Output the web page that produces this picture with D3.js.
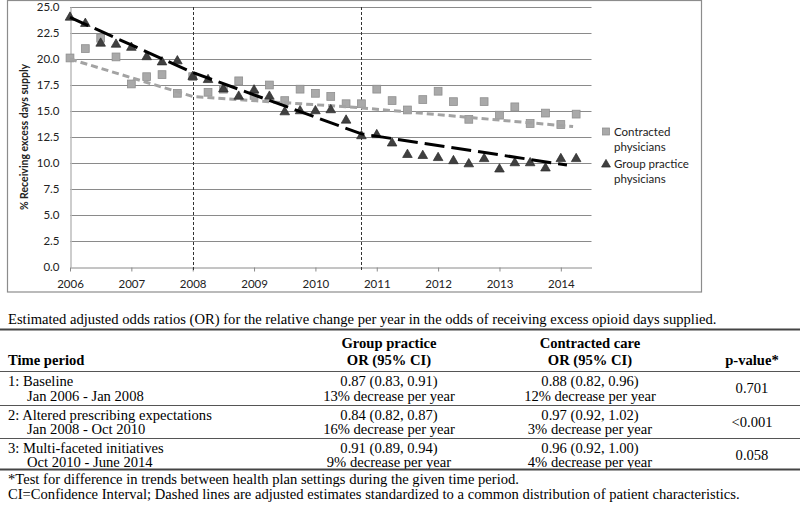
<!DOCTYPE html>
<html><head><meta charset="utf-8">
<script src="https://cdn.jsdelivr.net/npm/d3@7"></script>
<style>
html,body{margin:0;padding:0;background:#fff;}
svg{display:block;}
</style></head>
<body>
<svg id="c" width="800" height="516"></svg>
<script>
// ---------- data ----------
const quarters = [2006,2006.25,2006.5,2006.75,2007,2007.25,2007.5,2007.75,2008,2008.25,2008.5,2008.75,2009,2009.25,2009.5,2009.75,2010,2010.25,2010.5,2010.75,2011,2011.25,2011.5,2011.75,2012,2012.25,2012.5,2012.75,2013,2013.25,2013.5,2013.75,2014,2014.25];
const contractedValues = [20.1,21.0,22.0,20.2,17.6,18.3,18.5,16.7,18.3,16.8,17.1,17.9,16.5,17.5,16.0,17.1,16.7,16.4,15.7,15.7,17.1,16.0,15.1,16.1,16.9,15.9,14.2,15.9,14.6,15.4,13.8,14.8,13.7,14.7];
const groupValues = [24.0,23.4,21.5,21.4,21.1,20.2,19.7,19.8,18.3,18.0,17.1,16.4,17.0,16.4,14.9,15.0,15.0,15.1,14.1,12.6,12.7,11.9,10.8,10.7,10.5,10.2,9.9,10.4,9.4,10.0,10.0,9.5,10.4,10.4];
const groupTrendX = [2006, 2008, 2010.75, 2014.1];
const groupTrendY = [24.0, 18.7, 12.8, 9.8];
const contractedTrendX = [2006, 2008, 2010.75, 2014.2];
const contractedTrendY = [20.0, 16.4, 15.3, 13.5];
const breakYears = [2008, 2010.75];
const xTickLabels = ["2006","2007","2008","2009","2010","2011","2012","2013","2014"];
const yTickValues = [0,2.5,5,7.5,10,12.5,15,17.5,20,22.5,25];
const seriesNames = ["Contracted physicians","Group practice physicians"];
const yTitle = "% Receiving excess days supply";

const caption = "Estimated adjusted odds ratios (OR) for the relative change per year in the odds of receiving excess opioid days supplied.";
const headers = ["Time period","Group practice","OR (95% CI)","Contracted care","OR (95% CI)","p-value*"];
const periods = ["1: Baseline","2: Altered prescribing expectations","3: Multi-faceted initiatives"];
const ranges = ["Jan 2006 - Jan 2008","Jan 2008 - Oct 2010","Oct 2010 - June 2014"];
const groupOR = ["0.87 (0.83, 0.91)","0.84 (0.82, 0.87)","0.91 (0.89, 0.94)"];
const groupPct = ["13% decrease per year","16% decrease per year","9% decrease per year"];
const contractedOR = ["0.88 (0.82, 0.96)","0.97 (0.92, 1.02)","0.96 (0.92, 1.00)"];
const contractedPct = ["12% decrease per year","3% decrease per year","4% decrease per year"];
const pValues = ["0.701","<0.001","0.058"];
const footnotes = ["*Test for difference in trends between health plan settings during the given time period.",
  "CI=Confidence Interval; Dashed lines are adjusted estimates standardized to a common distribution of patient characteristics."];

// ---------- chart ----------
const svg = d3.select("#c");
const sans = "Lato, 'Open Sans', sans-serif";
const serif = "'Liberation Serif', 'Times New Roman', serif";

svg.append("rect").attr("x",7.5).attr("y",0.5).attr("width",694).attr("height",291.5)
  .attr("fill","#fff").attr("stroke","#8c8c8c").attr("stroke-width",1.2);

const x = d3.scaleLinear().domain([2006, 2014.5]).range([70, 591.5]);
const y = d3.scaleLinear().domain([0, 25]).range([267, 7]);

// gridlines
svg.append("g").selectAll("line").data(yTickValues.filter(v=>v>0)).join("line")
  .attr("x1",70).attr("x2",591.5).attr("y1",d=>Math.round(y(d))+0.5).attr("y2",d=>Math.round(y(d))+0.5)
  .attr("stroke","#8a8a8a").attr("stroke-width",1);

// y axis
const yAxis = svg.append("g").attr("transform","translate(70.5,0)")
  .call(d3.axisLeft(y).tickValues(yTickValues).tickFormat(d3.format(".1f")).tickSize(0).tickPadding(11));
yAxis.select(".domain").attr("stroke","#bdbdbd").attr("stroke-width",1.5);
yAxis.selectAll("text").attr("font-family",sans).attr("font-size",11.5).attr("fill","#222");

// x axis
const xAxis = svg.append("g").attr("transform","translate(0,267.5)")
  .call(d3.axisBottom(x).tickValues(xTickLabels.map(Number)).tickFormat((d,i)=>xTickLabels[i]).tickSize(4).tickPadding(8).tickSizeOuter(0));
xAxis.select(".domain").attr("stroke","#8a8a8a");
xAxis.selectAll(".tick line").attr("stroke","#8a8a8a");
xAxis.selectAll("text").attr("font-family",sans).attr("font-size",11.5).attr("fill","#222");

// y title
svg.append("text").attr("transform","translate(28,137) rotate(-90)").attr("text-anchor","middle")
  .attr("font-family",sans).attr("font-size",10.5).attr("font-weight","bold").attr("fill","#222").text(yTitle);

// break lines
svg.append("g").selectAll("line").data(breakYears).join("line")
  .attr("x1",d=>Math.round(x(d))+0.5).attr("x2",d=>Math.round(x(d))+0.5).attr("y1",7).attr("y2",270)
  .attr("stroke","#333").attr("stroke-width",1).attr("stroke-dasharray","3,2");

// contracted squares
const cData = quarters.map((q,i)=>({q, v: contractedValues[i]}));
const gData = quarters.map((q,i)=>({q, v: groupValues[i]}));
svg.append("g").selectAll("rect").data(cData).join("rect")
  .attr("x",d=>x(d.q)-3.9).attr("y",d=>y(d.v)-3.9).attr("width",7.8).attr("height",7.8)
  .attr("fill","#a9a9a9").attr("stroke","#8f8f8f").attr("stroke-width",0.8);

// contracted trend
const line = d3.line().x(d=>x(d[0])).y(d=>y(d[1]));
svg.append("path").attr("d",line(contractedTrendX.map((t,i)=>[t,contractedTrendY[i]])))
  .attr("fill","none").attr("stroke","#a3a3a3").attr("stroke-width",3).attr("stroke-dasharray","7,4");

// group triangles
const tri = d3.symbol().type(d3.symbolTriangle).size(40);
svg.append("g").selectAll("path").data(gData).join("path")
  .attr("transform",d=>`translate(${x(d.q)},${y(d.v)})`).attr("d",tri)
  .attr("fill","#404040").attr("stroke","#2a2a2a").attr("stroke-width",0.7);

// group trend
svg.append("path").attr("d",line(groupTrendX.map((t,i)=>[t,groupTrendY[i]])))
  .attr("fill","none").attr("stroke","#000").attr("stroke-width",3).attr("stroke-dasharray","20,7");

// legend
const lg = svg.append("g").attr("font-family",sans).attr("font-size",11.5).attr("fill","#222");
lg.append("rect").attr("x",602.5).attr("y",128).attr("width",7).attr("height",7)
  .attr("fill","#a9a9a9").attr("stroke","#8f8f8f").attr("stroke-width",0.8);
const cn = seriesNames[0].split(" ");
lg.append("text").attr("x",614).attr("y",135.5).text(cn[0]);
lg.append("text").attr("x",614).attr("y",150.5).text(cn[1]);
lg.append("path").attr("transform","translate(606,164.5)").attr("d",d3.symbol().type(d3.symbolTriangle).size(34))
  .attr("fill","#404040").attr("stroke","#2a2a2a").attr("stroke-width",0.7);
const gn = seriesNames[1].split(" ");
lg.append("text").attr("x",614).attr("y",167.5).text(gn[0]+" "+gn[1]);
lg.append("text").attr("x",614).attr("y",182.5).text(gn[2]);

// ---------- table ----------
const t = svg.append("g").attr("font-family",serif).attr("font-size",14.6).attr("fill","#000");
t.append("text").attr("x",8).attr("y",324).text(caption);
t.append("line").attr("x1",0).attr("x2",800).attr("y1",329.5).attr("y2",329.5).attr("stroke","#444").attr("stroke-width",1.8);

const colG = 389, colC = 590, colP = 752;
const hdr = t.append("g").attr("font-weight","bold");
hdr.append("text").attr("x",8).attr("y",365).text(headers[0]);
hdr.append("text").attr("x",colG).attr("y",348).attr("text-anchor","middle").text(headers[1]);
hdr.append("text").attr("x",colG).attr("y",365).attr("text-anchor","middle").text(headers[2]);
hdr.append("text").attr("x",colC).attr("y",348).attr("text-anchor","middle").text(headers[3]);
hdr.append("text").attr("x",colC).attr("y",365).attr("text-anchor","middle").text(headers[4]);
hdr.append("text").attr("x",colP).attr("y",365).attr("text-anchor","middle").text(headers[5]);
t.append("line").attr("x1",0).attr("x2",800).attr("y1",371.5).attr("y2",371.5).attr("stroke","#555").attr("stroke-width",1);

const rowTop = [371.5, 405, 438];
periods.forEach((p,i)=>{
  const b1 = rowTop[i]+14.5, b2 = rowTop[i]+29;
  t.append("text").attr("x",8).attr("y",b1).text(p);
  t.append("text").attr("x",27).attr("y",b2).text(ranges[i]);
  t.append("text").attr("x",colG).attr("y",b1).attr("text-anchor","middle").text(groupOR[i]);
  t.append("text").attr("x",colG).attr("y",b2).attr("text-anchor","middle").text(groupPct[i]);
  t.append("text").attr("x",colC).attr("y",b1).attr("text-anchor","middle").text(contractedOR[i]);
  t.append("text").attr("x",colC).attr("y",b2).attr("text-anchor","middle").text(contractedPct[i]);
  t.append("text").attr("x",colP).attr("y",(b1+b2)/2).attr("text-anchor","middle").text(pValues[i]);
  if (i<2) t.append("line").attr("x1",0).attr("x2",800).attr("y1",rowTop[i+1]+0.5).attr("y2",rowTop[i+1]+0.5).attr("stroke","#555").attr("stroke-width",1);
});
t.append("line").attr("x1",0).attr("x2",800).attr("y1",469.5).attr("y2",469.5).attr("stroke","#444").attr("stroke-width",1.8);
t.append("text").attr("x",8).attr("y",483.5).text(footnotes[0]);
t.append("text").attr("x",8).attr("y",499).text(footnotes[1]);
</script>
</body></html>
